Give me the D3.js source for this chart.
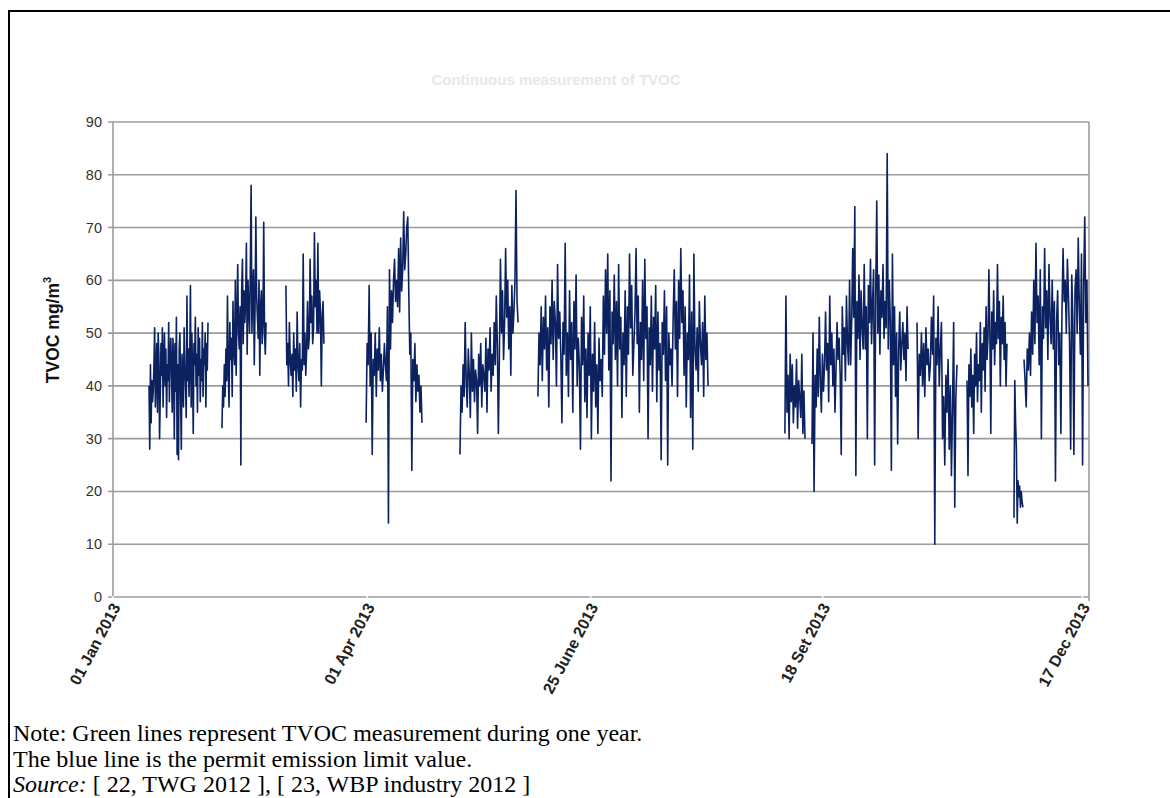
<!DOCTYPE html>
<html><head><meta charset="utf-8">
<script src="https://cdn.jsdelivr.net/npm/d3@7"></script>
<style>body{margin:0;background:#fff}svg{display:block}</style>
</head><body>
<svg id="c" width="1170" height="798"></svg>
<script>
// ---- data ----
const chartTitle = "Continuous measurement of TVOC";
const yLabel = "TVOC mg/m";
const yTicks = [0,10,20,30,40,50,60,70,80,90];
const tickDays = [0, 91, 171, 254, 347];
const tickLabels = ["01 Jan 2013","01 Apr 2013","25 June 2013","18 Set 2013","17 Dec 2013"];
// measurement blocks: start / end (day index) and TVOC values (mg/m3)
const segStart = [12.9, 39.0, 61.9, 90.6, 124.2, 152.1, 240.5, 250.2, 287.8, 305.7, 322.5, 326.1];
const segEnd   = [34.0, 54.8, 75.5, 110.6, 145.0, 213.0, 247.7, 284.6, 302.1, 320.0, 325.7, 349.0];
const seg1 = [40,28,44,33,41,37,39,44,51,36,43,48,35,50,46,30,38,48,42,51,36,45,50,40,47,34,44,41,52,37,46,49,43,35,49,45,30,48,39,53,27,44,26,47,50,38,28,46,42,36,51,44,40,34,57,41,47,38,45,59,36,50,43,31,48,44,53,40,46,35,51,42,49,37,45,41,52,38,47,44,50,36,48,43,52];
const seg2 = [32,40,36,44,38,47,41,57,43,36,52,45,49,38,56,47,44,60,42,53,63,50,47,55,25,58,64,48,58,52,56,67,46,60,55,50,62,78,50,58,62,44,55,72,57,53,49,60,42,55,58,48,52,71,50,46,52];
const seg3 = [59,44,48,40,52,45,42,46,38,50,43,47,39,54,44,41,48,36,45,43,65,44,50,42,47,56,47,49,64,52,57,48,51,69,55,60,50,67,50,58,54,40,53,56,48];
const seg4 = [33,48,44,59,40,50,27,45,42,50,38,47,43,51,41,46,39,43,48,44,41,55,14,62,47,58,52,60,64,56,60,55,66,54,68,58,62,73,62,65,70,72,58,46,50,24,45,41,48,37,44,39,42,35,40,33];
const seg5 = [27,40,35,44,38,52,41,36,47,42,34,50,39,45,37,43,41,31,46,40,48,36,44,42,39,49,35,47,43,51,39,46,42,52,44,57,48,31,46,64,50,58,45,52,66,53,60,47,55,42,59,50,54,60,77,56,52];
const seg6 = [38,50,44,55,41,53,47,57,43,51,36,55,48,60,45,56,52,40,63,49,54,46,33,52,46,67,42,50,
  38,58,45,52,35,56,47,61,40,49,44,28,53,44,57,37,47,34,50,42,55,30,46,39,52,36,44,31,49,41,45,38,
  57,46,62,50,65,43,58,22,54,48,61,45,56,40,63,47,53,34,50,44,58,38,55,46,65,51,59,42,48,54,
  66,48,57,35,52,45,60,41,64,49,55,30,51,44,57,39,53,47,59,37,54,43,48,26,52,46,58,41,55,25,50,44,47,40,53,
  62,47,56,38,60,49,66,52,58,42,55,36,50,45,61,34,54,28,65,47,43,51,39,56,48,44,52,38,57,45,50,40];
const seg7 = [31,57,35,42,30,46,37,44,33,40,36,45,32,41,38,34,46,31,39,30];
const seg8 = [29,50,20,42,36,47,38,53,41,35,46,39,44,54,43,48,37,57,44,50,40,47,35,43,52,45,49,42,27,55,46,51,41,57,48,44,60,44,52,66,53,74,23,56,49,61,45,58,51,47,63,47,55,30,59,52,64,48,56,62,25,57,75,50,61,46,58,53,63,49,56,51,84,47,60,52,24,65,44,55,38,50,29,47,54,43,48,52,45,50,41,55,47];
const seg9 = [52,30,46,42,50,40,48,38,51,44,47,41,44,53,46,57,10,49,44,55,40,47,52,30,38,25,42,35,45,28,40,23,36,52,17,38,44];
const seg10 = [41,23,44,38,47,36,42,31,46,40,50,37,44,41,52,35,48,43,51,39,55,45,49,62,50,31,54,47,58,44,52,48,63,49,56,40,53,48,57,45,52,40,48];
const seg11 = [15,41,33,28,14,22,19,21,17,20,18,17];
const seg12 = [45,41,36,47,43,50,42,54,46,60,48,67,52,57,44,62,30,55,49,66,51,58,45,63,53,48,60,47,56,22,52,58,44,50,31,54,66,56,60,50,64,57,48,28,61,53,27,58,62,50,68,55,46,65,25,59,72,52,60,40];
const segValues = [seg1,seg2,seg3,seg4,seg5,seg6,seg7,seg8,seg9,seg10,seg11,seg12];
const notes = ["Note: Green lines represent TVOC measurement during one year.",
               "The blue line is the permit emission limit value."];
const sourceText = " [ 22, TWG 2012 ], [ 23, WBP industry 2012 ]";

// ---- drawing ----
const svg = d3.select("#c");
const x = d3.scaleLinear().domain([0, 349]).range([113, 1088]);
const y = d3.scaleLinear().domain([0, 90]).range([597, 122]);
const sans = "Liberation Sans, Arial, sans-serif";

// outer frame
svg.append("rect").attr("x", 9).attr("y", 11).attr("width", 1300).attr("height", 1000)
  .attr("fill", "none").attr("stroke", "#000").attr("stroke-width", 2);

// title (faded)
svg.append("text").attr("x", 556).attr("y", 85).attr("text-anchor", "middle")
  .attr("font-family", sans).attr("font-weight", "bold")
  .attr("font-size", 15).attr("fill", "#e8e8e8").text(chartTitle);

// gridlines
svg.append("g").selectAll("line").data(yTicks).join("line")
  .attr("x1", 108).attr("x2", 1089)
  .attr("y1", d => y(d)).attr("y2", d => y(d))
  .attr("stroke", "#9c9c9c").attr("stroke-width", 1.6);

// y axis line and right border
svg.append("line").attr("x1", 113).attr("x2", 113).attr("y1", y(90)).attr("y2", y(0))
  .attr("stroke", "#9c9c9c").attr("stroke-width", 1.6);
svg.append("line").attr("x1", 1089).attr("x2", 1089).attr("y1", y(90)).attr("y2", y(0) + 4)
  .attr("stroke", "#9c9c9c").attr("stroke-width", 1.6);

// y tick labels
svg.append("g").selectAll("text").data(yTicks).join("text")
  .attr("x", 102).attr("y", d => y(d) + 5).attr("text-anchor", "end")
  .attr("font-family", sans).attr("font-size", 14.5)
  .attr("fill", "#333").text(d => d);

// y label
const yl = svg.append("text").attr("transform", "translate(59,330) rotate(-90)")
  .attr("text-anchor", "middle").attr("font-family", sans)
  .attr("font-weight", "bold").attr("font-size", 17.5).attr("fill", "#111");
yl.append("tspan").text(yLabel);
yl.append("tspan").attr("dy", -8).attr("font-size", 11).text("3");

// x ticks (white notches) and labels
svg.append("g").selectAll("line").data(tickDays).join("line")
  .attr("x1", d => x(d)).attr("x2", d => x(d)).attr("y1", y(0) - 1).attr("y2", y(0) + 4)
  .attr("stroke", "#fff").attr("stroke-width", 1.5);
svg.append("g").selectAll("text").data(tickDays).join("text")
  .attr("transform", d => `translate(${x(d) + 8},${y(0) + 10}) rotate(-62)`)
  .attr("text-anchor", "end").attr("font-family", sans)
  .attr("font-weight", "bold").attr("font-size", 16).attr("fill", "#222")
  .text((d, i) => tickLabels[i]);

// data lines
const line = d3.line().x(d => x(d[0])).y(d => y(d[1]));
const segData = segValues.map((vals, i) => vals.map((v, j) =>
  [segStart[i] + j * (segEnd[i] - segStart[i]) / (vals.length - 1), v]));
svg.append("g").selectAll("path").data(segData).join("path")
  .attr("d", line).attr("fill", "none").attr("stroke", "#0b2160")
  .attr("stroke-width", 1.6).attr("stroke-linejoin", "round");

// notes
const nt = svg.append("g").attr("font-family", "Liberation Serif, 'Times New Roman', serif")
  .attr("font-size", 24).attr("fill", "#000");
nt.selectAll("text.n").data(notes).join("text").attr("class", "n")
  .attr("x", 13).attr("y", (d, i) => 741 + i * 26).text(d => d);
const src = nt.append("text").attr("x", 13).attr("y", 792);
src.append("tspan").attr("font-style", "italic").text("Source:");
src.append("tspan").text(sourceText);
</script>
</body></html>
